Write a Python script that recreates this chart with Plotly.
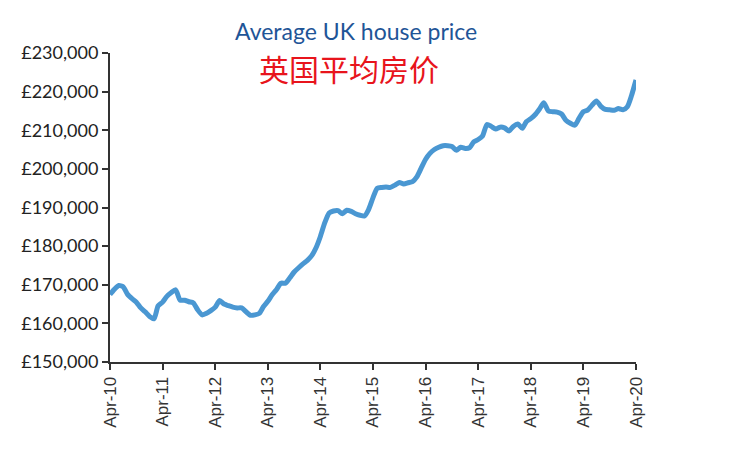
import plotly.graph_objects as go
import pandas as pd

# Monthly average UK house price (GBP thousands), Apr-2010 .. Apr-2020
prices_k = [
    167.5, 168.8, 169.8, 169.5, 167.5, 166.4, 165.5, 164.0, 163.0, 161.8,
    161.2, 164.5, 165.5, 167.0, 168.0, 168.7, 166.0, 166.0, 165.6, 165.3,
    163.5, 162.2, 162.6, 163.3, 164.2, 165.9, 165.0, 164.6, 164.2, 164.0,
    164.0, 163.0, 162.1, 162.2, 162.6, 164.3, 165.7, 167.4, 168.8, 170.4,
    170.4, 171.8, 173.3, 174.4, 175.4, 176.3, 177.6, 179.5, 182.5, 186.0,
    188.6, 189.1, 189.2, 188.4, 189.3, 189.0, 188.4, 188.0, 187.8, 189.4,
    192.5, 195.0, 195.2, 195.3, 195.2, 195.8, 196.5, 196.1, 196.4, 196.7,
    198.0, 200.2, 202.5, 204.0, 205.0, 205.6, 206.0, 206.0, 205.8, 204.8,
    205.6, 205.3, 205.5, 207.0, 207.6, 208.5, 211.5, 211.0, 210.3, 210.8,
    210.6, 209.8, 211.0, 211.6, 210.5, 212.2, 213.0, 214.0, 215.5, 217.1,
    215.0, 214.8, 214.7, 214.2, 212.6, 211.8, 211.3, 213.0, 214.8, 215.2,
    216.5, 217.6, 216.2, 215.4, 215.3, 215.2, 215.6, 215.3, 216.1, 219.0,
    223.0,
]
months = pd.date_range("2010-04-01", periods=len(prices_k), freq="MS")
prices = [v * 1000 for v in prices_k]

tick_dates = pd.date_range("2010-04-01", "2020-04-01", freq="12MS")
tick_labels = ["Apr-10", "Apr-11", "Apr-12", "Apr-13", "Apr-14", "Apr-15",
               "Apr-16", "Apr-17", "Apr-18", "Apr-19", "Apr-20"]
y_ticks = [150000, 160000, 170000, 180000, 190000, 200000, 210000, 220000, 230000]
y_labels = ["£150,000", "£160,000", "£170,000", "£180,000", "£190,000",
            "£200,000", "£210,000", "£220,000", "£230,000"]

title_en = "Average UK house price"
title_zh = "英国平均房价"

fig = go.Figure()
fig.add_trace(go.Scatter(
    x=months, y=prices, mode="lines",
    line=dict(color="#4a97d2", width=5, shape="spline", smoothing=0.6),
    hoverinfo="skip", showlegend=False,
))

OFF = 8  # page body margin
W, H = 733 - OFF, 460 - OFF
L, T = 110 - OFF, 53 - OFF
PW, PH = 526, 309
R, B = W - L - PW, H - T - PH


def px_x(x):
    return (x - OFF - L) / PW


def px_y(y):
    return 1 - (y - OFF - T) / PH


fig.update_layout(
    width=W, height=H,
    margin=dict(l=L, r=R, t=T, b=B, pad=0),
    paper_bgcolor="white", plot_bgcolor="white",
    xaxis=dict(
        range=[months[0], months[-1]], automargin=False,
        tickvals=list(tick_dates), ticktext=tick_labels,
        tickangle=-90, ticks="outside", ticklen=6, tickwidth=2, tickcolor="#333",
        showline=True, linecolor="#333", linewidth=2,
        showgrid=False, zeroline=False,
        tickfont=dict(family="Liberation Sans, Arial", size=17, color="#333"),
    ),
    yaxis=dict(
        range=[150000, 230000], automargin=False,
        tickvals=y_ticks, ticktext=y_labels,
        ticks="outside", ticklen=6, tickwidth=2, tickcolor="#333",
        showline=True, linecolor="#333", linewidth=2,
        showgrid=False, zeroline=False,
        tickfont=dict(family="Lato, Open Sans, sans-serif", size=18, color="#222"),
    ),
    annotations=[
        dict(text=title_en, xref="paper", yref="paper",
             x=px_x(356), y=px_y(31),
             xanchor="center", yanchor="middle", showarrow=False,
             font=dict(family="Lato, Open Sans, sans-serif", size=23, color="#1f5597")),
        dict(text=title_zh, xref="paper", yref="paper",
             x=px_x(349), y=px_y(68),
             xanchor="center", yanchor="middle", showarrow=False,
             font=dict(family="Noto Sans CJK SC", size=30, color="#e8141c")),
    ],
)

fig.write_html("out.html")
